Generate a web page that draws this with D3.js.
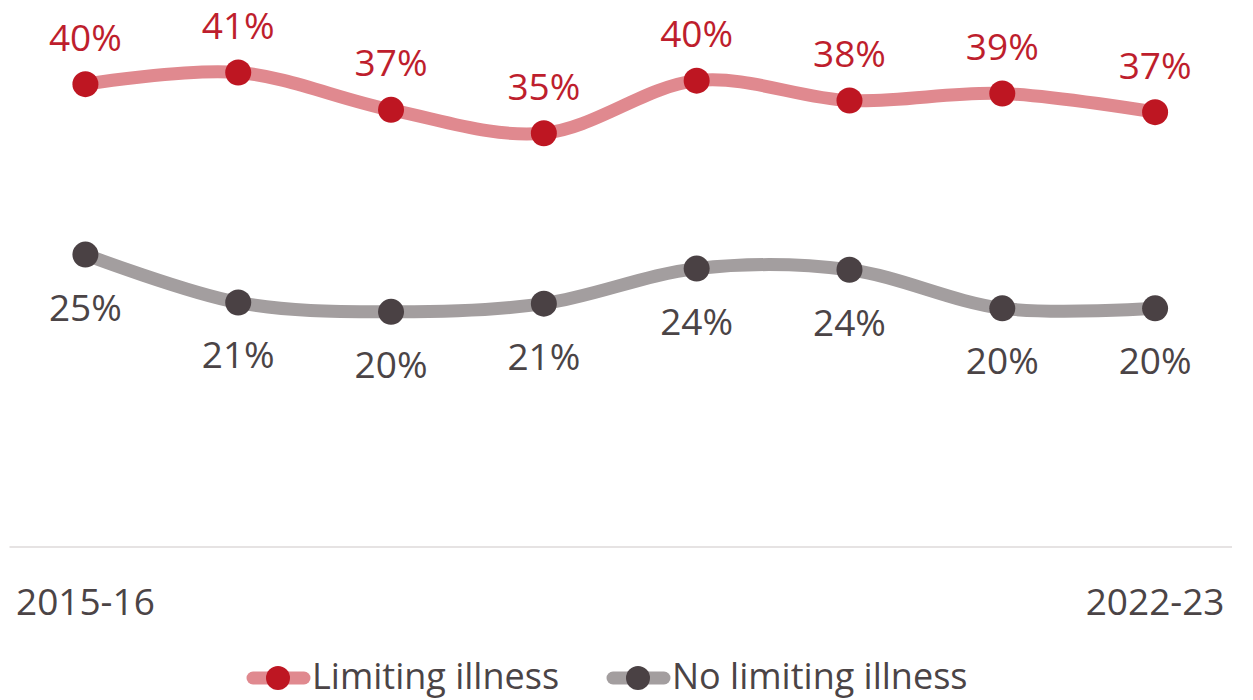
<!DOCTYPE html>
<html>
<head>
<meta charset="utf-8">
<script src="https://cdn.jsdelivr.net/npm/d3@7"></script>
<style>
  html, body { margin: 0; padding: 0; background: #fff; }
  svg { display: block; }
  text { font-family: "Open Sans", "Noto Sans", sans-serif; }
</style>
</head>
<body>
<svg id="chart" width="1253" height="700"></svg>
<script>
// ---- data ----
const categories = ["2015-16","2016-17","2017-18","2018-19","2019-20","2020-21","2021-22","2022-23"];
const shownTicks = ["2015-16","2022-23"];
const limiting = [0.396, 0.406, 0.374, 0.354, 0.399, 0.382, 0.388, 0.372];
const noLimiting = [0.250, 0.209, 0.201, 0.208, 0.238, 0.237, 0.204, 0.204];
const seriesNames = ["Limiting illness", "No limiting illness"];

const styles = [
  { line: "#E0898F", marker: "#BE1622", text: "#BE1E2D", labelPos: "above" },
  { line: "#A39E9F", marker: "#4A4144", text: "#4B4446", labelPos: "below" }
];
const series = [limiting, noLimiting];

const svg = d3.select("#chart");

const x = d3.scaleBand().domain(categories).range([9, 1231.5]).padding(0);
const cx = d => x(d) + x.bandwidth() / 2;
const y = d3.scaleLinear().domain([0, 0.45]).range([546.5, 21.1]);
const fmt = d3.format(".0%");

// axis
const axis = d3.axisBottom(x)
  .tickSize(0)
  .tickSizeOuter(0)
  .tickFormat(d => shownTicks.includes(d) ? d : "");
const ag = svg.append("g").attr("transform", `translate(0,${y(0)})`).call(axis);
ag.select(".domain").attr("stroke", "#DEDADA").attr("stroke-width", 1.5);
ag.selectAll("text")
  .attr("y", 68.5).attr("dy", 0)
  .attr("fill", "#4B4446")
  .style("font-size", "37px")
  .style("font-family", "'Open Sans', sans-serif");

// lines
const line = d3.line()
  .x((d, i) => cx(categories[i]))
  .y(d => y(d))
  .curve(d3.curveCardinal.tension(0));

series.forEach((vals, si) => {
  const st = styles[si];
  const g = svg.append("g");
  g.append("path")
    .datum(vals)
    .attr("d", line)
    .attr("fill", "none")
    .attr("stroke", st.line)
    .attr("stroke-width", 13)
    .attr("stroke-linecap", "round")
    .attr("stroke-linejoin", "round");
  g.selectAll("circle")
    .data(vals)
    .join("circle")
    .attr("cx", (d, i) => cx(categories[i]))
    .attr("cy", d => y(d))
    .attr("r", 13)
    .attr("fill", st.marker);
  g.selectAll("text.lbl")
    .data(vals)
    .join("text")
    .attr("class", "lbl")
    .attr("x", (d, i) => cx(categories[i]))
    .attr("y", d => st.labelPos === "above" ? y(d) - 33.5 : y(d) + 66)
    .attr("text-anchor", "middle")
    .attr("fill", st.text)
    .style("font-size", "37px")
    .text(d => fmt(d));
});

// legend
const legendItems = [
  { name: seriesNames[0], x0: 247, st: styles[0] },
  { name: seriesNames[1], x0: 607, st: styles[1] }
];
const ly = 678;
legendItems.forEach(it => {
  const g = svg.append("g");
  g.append("line")
    .attr("x1", it.x0 + 6).attr("x2", it.x0 + 57)
    .attr("y1", ly).attr("y2", ly)
    .attr("stroke", it.st.line)
    .attr("stroke-width", 13)
    .attr("stroke-linecap", "round");
  g.append("circle")
    .attr("cx", it.x0 + 31).attr("cy", ly).attr("r", 12)
    .attr("fill", it.st.marker);
  g.append("text")
    .attr("x", it.x0 + 65).attr("y", ly + 11)
    .attr("fill", "#4B4446")
    .style("font-size", "36px")
    .text(it.name);
});
</script>
</body>
</html>
